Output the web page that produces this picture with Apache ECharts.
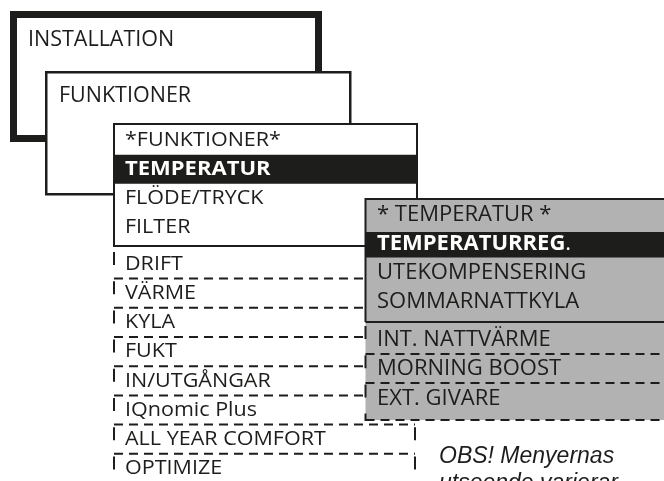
<!DOCTYPE html>
<html>
<head>
<meta charset="utf-8">
<title>Menyer</title>
<script src="https://cdn.jsdelivr.net/npm/echarts@6/dist/echarts.min.js"></script>
<style>
html, body { margin: 0; padding: 0; background: #fff; }
#main { width: 664px; height: 481px; }
</style>
</head>
<body>
<div id="main"></div>
<script>
// menytexter
var topTitle = 'INSTALLATION';
var subTitle = 'FUNKTIONER';
var menuItems = ['*FUNKTIONER*', 'TEMPERATUR', 'FLÖDE/TRYCK', 'FILTER'];
var menuMore = ['DRIFT', 'VÄRME', 'KYLA', 'FUKT', 'IN/UTGÅNGAR', 'IQnomic Plus', 'ALL YEAR COMFORT', 'OPTIMIZE'];
var tempItems = ['* TEMPERATUR *', 'TEMPERATURREG', 'UTEKOMPENSERING', 'SOMMARNATTKYLA'];
var tempMore = ['INT. NATTVÄRME', 'MORNING BOOST', 'EXT. GIVARE'];
var noteLines = ['OBS! Menyernas', 'utseende varierar.'];
var selMenu = 1;
var selTemp = 1;

var INK = '#1d1d1b';
var GRAY = '#b2b2b2';
var FONT = '"Open Sans", "Noto Sans", sans-serif';
var DASH = [9, 6];

var myChart = echarts.init(document.getElementById('main'), null, { renderer: 'canvas' });
var els = [];

function rect(x, y, w, h, style) {
    els.push({ type: 'rect', shape: { x: x, y: y, width: w, height: h }, style: style });
}
function line(x1, y1, x2, y2, style) {
    els.push({ type: 'line', shape: { x1: x1, y1: y1, x2: x2, y2: y2 }, style: style });
}
function label(s, x, y, size, color, bold, sx, rich) {
    var st = {
        text: s, x: 0, y: 0,
        font: (bold ? 'bold ' : 'normal ') + size + 'px ' + FONT,
        fill: color,
        textVerticalAlign: 'middle'
    };
    if (rich) st.rich = rich;
    els.push({ type: 'text', x: x, y: y, scaleX: sx || 1, style: st });
}

// ytterbox INSTALLATION
rect(13.5, 14.5, 305, 124, { fill: '#fff', stroke: INK, lineWidth: 7 });
label(topTitle, 28, 40, 21.5, INK);

// FUNKTIONER
rect(46.25, 72.25, 304, 122, { fill: '#fff', stroke: INK, lineWidth: 2.5 });
label(subTitle, 59, 96, 21.5, INK);

// huvudmeny
var mx = 114, mw = 303, pitch = 29.2, msx = 1.05;
rect(mx, 124, mw, 122, { fill: '#fff', stroke: INK, lineWidth: 2 });
menuItems.forEach(function (s, i) {
    var cy = 140 + pitch * i;
    if (i === selMenu) {
        rect(mx, cy - 14.5, mw, 29, { fill: INK });
    }
    label(s, 125, cy, i === selMenu ? 20 : 20.5, i === selMenu ? '#fff' : INK, i === selMenu, i === selMenu ? 1.1 : msx);
});

// streckade rader
var dstyle = { stroke: INK, lineWidth: 2, lineDash: DASH, fill: null };
menuMore.forEach(function (s, i) {
    var cy = 264 + pitch * i;
    line(mx, cy + 14.6, 415, cy + 14.6, dstyle);
    label(s, 125, cy, 20.5, INK, false, msx);
});
line(mx, 246, mx, 485, { stroke: INK, lineWidth: 2, lineDash: [13, 16.2], lineDashOffset: -6 });
line(415, 246, 415, 485, { stroke: INK, lineWidth: 2, lineDash: [13, 16.2], lineDashOffset: -6 });

// grå undermeny
var gx = 365.5, gBottom = 420;
rect(gx, 199, 320, gBottom - 199, { fill: GRAY });
line(gx, 199, 680, 199, { stroke: INK, lineWidth: 2 });
line(gx, 198, gx, 322, { stroke: INK, lineWidth: 2 });
line(gx, 322, 680, 322, { stroke: INK, lineWidth: 2 });
tempItems.forEach(function (s, i) {
    var cy = 215 + 29 * i;
    if (i === selTemp) {
        rect(gx, 232, 320, 25.5, { fill: INK });
        label('{b|' + s + '}{p|.}', 377, cy, 22, '#fff', true, 1, {
            b: { font: 'bold 22px ' + FONT, fill: '#fff' },
            p: { font: 'normal 22px ' + FONT, fill: '#fff' }
        });
    } else {
        label(s, 377, cy, 22, INK);
    }
});
var tempLines = [354, 383, gBottom];
tempMore.forEach(function (s, i) {
    var cy = 340 + 29.2 * i;
    line(gx, tempLines[i], 680, tempLines[i], { stroke: INK, lineWidth: 2, lineDash: DASH });
    label(s, 377, cy, 22, INK);
});
line(gx, 322, gx, 421, { stroke: INK, lineWidth: 2, lineDash: [13, 16.2], lineDashOffset: -4 });

// not
els.push({
    type: 'text',
    style: {
        text: noteLines.join('\n'),
        x: 439, y: 443,
        font: 'italic 23px "Liberation Sans", Arial, sans-serif',
        fill: INK,
        lineHeight: 27
    }
});

myChart.setOption({
    backgroundColor: '#fff',
    animation: false,
    graphic: { elements: els }
});
</script>
</body>
</html>
